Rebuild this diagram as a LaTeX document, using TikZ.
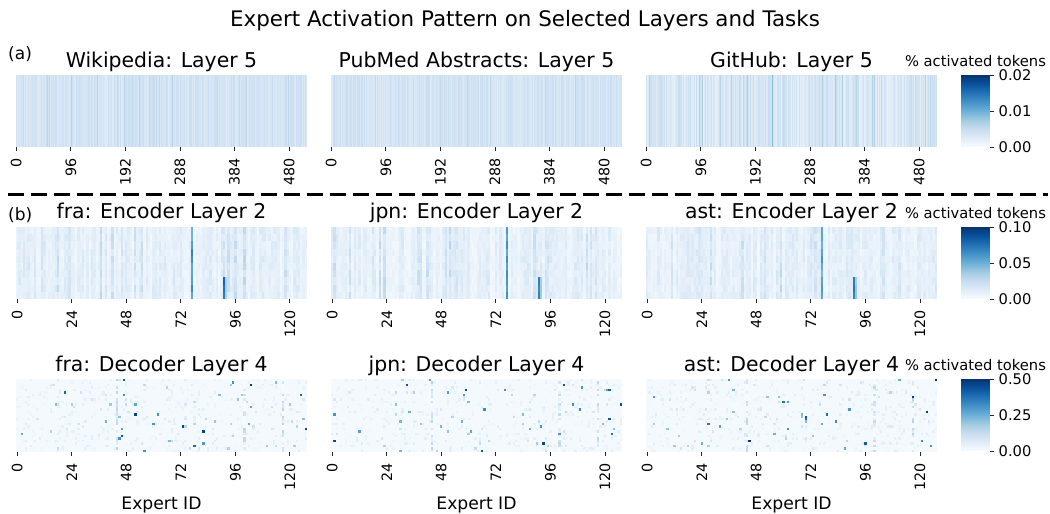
\documentclass[tikz,border=0pt]{standalone}
\usepackage{fontspec}
\setmainfont{DejaVu Sans}
\definecolor{bA}{HTML}{F7FBFF}
\definecolor{bB}{HTML}{DEEBF7}
\definecolor{bC}{HTML}{C6DBEF}
\definecolor{bD}{HTML}{9ECAE1}
\definecolor{bE}{HTML}{6BAED6}
\definecolor{bF}{HTML}{4292C6}
\definecolor{bG}{HTML}{2171B5}
\definecolor{bH}{HTML}{08519C}
\definecolor{bI}{HTML}{08306B}
\definecolor{dbg}{HTML}{F4F9FE}
\newcommand\setcc[1]{%
  \pgfmathsetmacro\vv{max(0,min(0.999,#1))}%
  \pgfmathtruncatemacro\ss{floor(\vv*8)}%
  \pgfmathsetmacro\pp{(\vv*8-\ss)*100}%
  \ifcase\ss \colorlet{cc}{bB!\pp!bA}\or \colorlet{cc}{bC!\pp!bB}\or
  \colorlet{cc}{bD!\pp!bC}\or \colorlet{cc}{bE!\pp!bD}\or
  \colorlet{cc}{bF!\pp!bE}\or \colorlet{cc}{bG!\pp!bF}\or
  \colorlet{cc}{bH!\pp!bG}\or \colorlet{cc}{bI!\pp!bH}\fi}
% panel (a): 512 experts, one row
\newcommand\heatA[3]{%
  \pgfmathsetseed{#2}%
  \foreach \i in {0,...,511}{%
    \pgfmathsetmacro\v{#3}%
    \setcc{\v}%
    \fill[cc] ({#1+\i*0.56836},75) rectangle ({#1+\i*0.56836+0.8},147);
  }}
% encoder: 128 experts, 10 rows
\newcommand\heatE[2]{%
  \pgfmathsetseed{#2}%
  \foreach \c in {0,...,127}{%
    \pgfmathsetmacro\b{0.04+0.08*rnd+0.1*(rnd<0.1)+0.12*(\c==42)+0.12*(\c==52)+0.08*(\c==18)}%
    \foreach \r in {0,...,9}{%
      \pgfmathsetmacro\v{\b*(0.6+0.8*rnd)+(\c==77)*(0.38+0.18*rnd)+(\c==91)*(\r>6)*0.6+(\c==92)*(\r>6)*0.25}%
      \setcc{\v}%
      \fill[cc] ({#1+\c*2.2734},{227+\r*7.2}) rectangle ({#1+\c*2.2734+2.5},{227+\r*7.2+7.4});
    }}}
% decoder: 128 experts, 30 rows, sparse
\newcommand\dcell[3]{%
  \setcc{#3}%
  \fill[cc] ({\dx+#1*2.2734},{379+#2*2.4333}) rectangle +(2.3,2.45);}
\newcommand\heatD[2]{%
  \def\dx{#1}%
  \fill[dbg] (#1,379) rectangle ({#1+291},452);
  \pgfmathsetseed{#2}%
  \foreach \k in {1,...,450}{%
    \pgfmathsetmacro\c{random(0,127)}%
    \pgfmathsetmacro\r{random(0,29)}%
    \dcell{\c}{\r}{0.03+0.08*rnd}}
  \foreach \c in {44,100,117}{%
    \foreach \r in {0,...,29}{%
      \pgfmathsetmacro\v{(rnd<0.55)*(0.08+0.22*rnd)}%
      \dcell{\c}{\r}{\v}}}
  \foreach \k in {1,...,75}{%
    \pgfmathsetmacro\c{random(0,127)}%
    \pgfmathsetmacro\r{random(0,29)}%
    \dcell{\c}{\r}{0.15+0.5*rnd^2}}
  \foreach \k in {1,...,10}{%
    \pgfmathsetmacro\c{random(0,127)}%
    \pgfmathsetmacro\r{random(0,29)}%
    \dcell{\c}{\r}{0.7+0.28*rnd}}}
\newcommand\cbar[1]{%
  \foreach \j in {0,...,71}{%
    \pgfmathsetmacro\v{1-(\j+0.5)/72}%
    \setcc{\v}%
    \fill[cc] (961,{#1+\j}) rectangle (990,{#1+\j+1.1});
  }}
\tikzset{
  ttl/.style={font=\fontsize{20.4}{24}\selectfont, anchor=base, inner sep=0},
  xtl/.style={font=\fontsize{14.3}{16}\selectfont, rotate=90, anchor=east, inner sep=0},
  ctl/.style={font=\fontsize{14.7}{16}\selectfont, anchor=west, inner sep=0},
  cbl/.style={font=\fontsize{14.7}{16}\selectfont, anchor=base, inner sep=0},
  xlab/.style={font=\fontsize{17.2}{20}\selectfont, anchor=base, inner sep=0},
  plab/.style={font=\fontsize{17}{20}\selectfont, anchor=base west, inner sep=0},
  tickmark/.style={line width=0.9pt, black!85},
}
\begin{document}
\begin{tikzpicture}[x=1pt,y=-1pt]
\useasboundingbox (0,0) rectangle (1050,514);
\node[font=\fontsize{21.4}{25}\selectfont, anchor=base, inner sep=0] (maintitle) at (525,26) {Expert Activation Pattern on Selected Layers and Tasks};
% panel labels
\node[plab] (la) at (8,59) {(a)};
\node[plab] (lb) at (8,220) {(b)};
% dashed separator
\coordinate (dl) at (8,194.5);
\coordinate (dr) at (1048,194.5);
\draw[line width=3pt, dash pattern=on 16pt off 7pt] (dl) -- (dr);
% row (a)
\heatA{16}{11}{0.13+0.1*rnd+0.08*(rnd<0.05)+0.15*(\i==355)+0.08*(\i==190)}
\heatA{331}{23}{0.13+0.1*rnd+0.08*(rnd<0.05)+0.12*(\i==192)+0.1*(\i==420)}
\heatA{646}{37}{0.08+0.16*rnd+0.1*(rnd<0.06)+0.3*(\i==70)+0.35*(\i==137)+0.35*(\i==222)+0.4*(\i==404)}
\node[ttl] (t1) at (161.5,67) {Wikipedia: Layer 5};
\node[ttl] (t2) at (476.5,67) {PubMed Abstracts: Layer 5};
\node[ttl] (t3) at (791.5,67) {GitHub: Layer 5};
\foreach \X [count=\p] in {16,331,646}{
  \foreach \k in {0,96,192,288,384,480}{
    \draw[tickmark] ({\X+(\k+0.5)*0.56836},147) -- ({\X+(\k+0.5)*0.56836},151);
    \node[xtl] (xa\p-\k) at ({\X+(\k+0.5)*0.56836},158.5) {\k};
  }}
% row encoder
\heatE{16}{101}
\heatE{331}{202}
\heatE{646}{303}
\node[ttl] (t4) at (161.5,218.5) {fra: Encoder Layer 2};
\node[ttl] (t5) at (476.5,218.5) {jpn: Encoder Layer 2};
\node[ttl] (t6) at (791.5,218.5) {ast: Encoder Layer 2};
% row decoder
\heatD{16}{404}
\heatD{331}{505}
\heatD{646}{606}
\node[ttl] (t7) at (161.5,371.5) {fra: Decoder Layer 4};
\node[ttl] (t8) at (476.5,371.5) {jpn: Decoder Layer 4};
\node[ttl] (t9) at (791.5,371.5) {ast: Decoder Layer 4};
\foreach \X [count=\p] in {16,331,646}{
  \foreach \k in {0,24,48,72,96,120}{
    \draw[tickmark] ({\X+(\k+0.5)*2.2734},299) -- ({\X+(\k+0.5)*2.2734},303);
    \node[xtl] (xe\p-\k) at ({\X+(\k+0.5)*2.2734},310.5) {\k};
    \draw[tickmark] ({\X+(\k+0.5)*2.2734},452) -- ({\X+(\k+0.5)*2.2734},456);
    \node[xtl] (xd\p-\k) at ({\X+(\k+0.5)*2.2734},463.5) {\k};
  }}
\node[xlab] (e1) at (161.5,509) {Expert ID};
\node[xlab] (e2) at (476.5,509) {Expert ID};
\node[xlab] (e3) at (791.5,509) {Expert ID};
% colorbars
\cbar{75}
\cbar{227}
\cbar{379}
\node[cbl] (cl1) at (975.5,66.5) {\% activated tokens};
\node[cbl] (cl2) at (975.5,218.5) {\% activated tokens};
\node[cbl] (cl3) at (975.5,370.5) {\% activated tokens};
\foreach \Y/\a/\b/\c [count=\q] in {75/0.02/0.01/0.00, 227/0.10/0.05/0.00, 379/0.50/0.25/0.00}{
  \draw[tickmark] (990,\Y) -- (994,\Y);
  \draw[tickmark] (990,{\Y+36}) -- (994,{\Y+36});
  \draw[tickmark] (990,{\Y+72}) -- (994,{\Y+72});
  \node[ctl] (ct\q a) at (998.5,\Y) {\a};
  \node[ctl] (ct\q b) at (998.5,{\Y+36}) {\b};
  \node[ctl] (ct\q c) at (998.5,{\Y+72}) {\c};
}
\end{tikzpicture}
\end{document}
